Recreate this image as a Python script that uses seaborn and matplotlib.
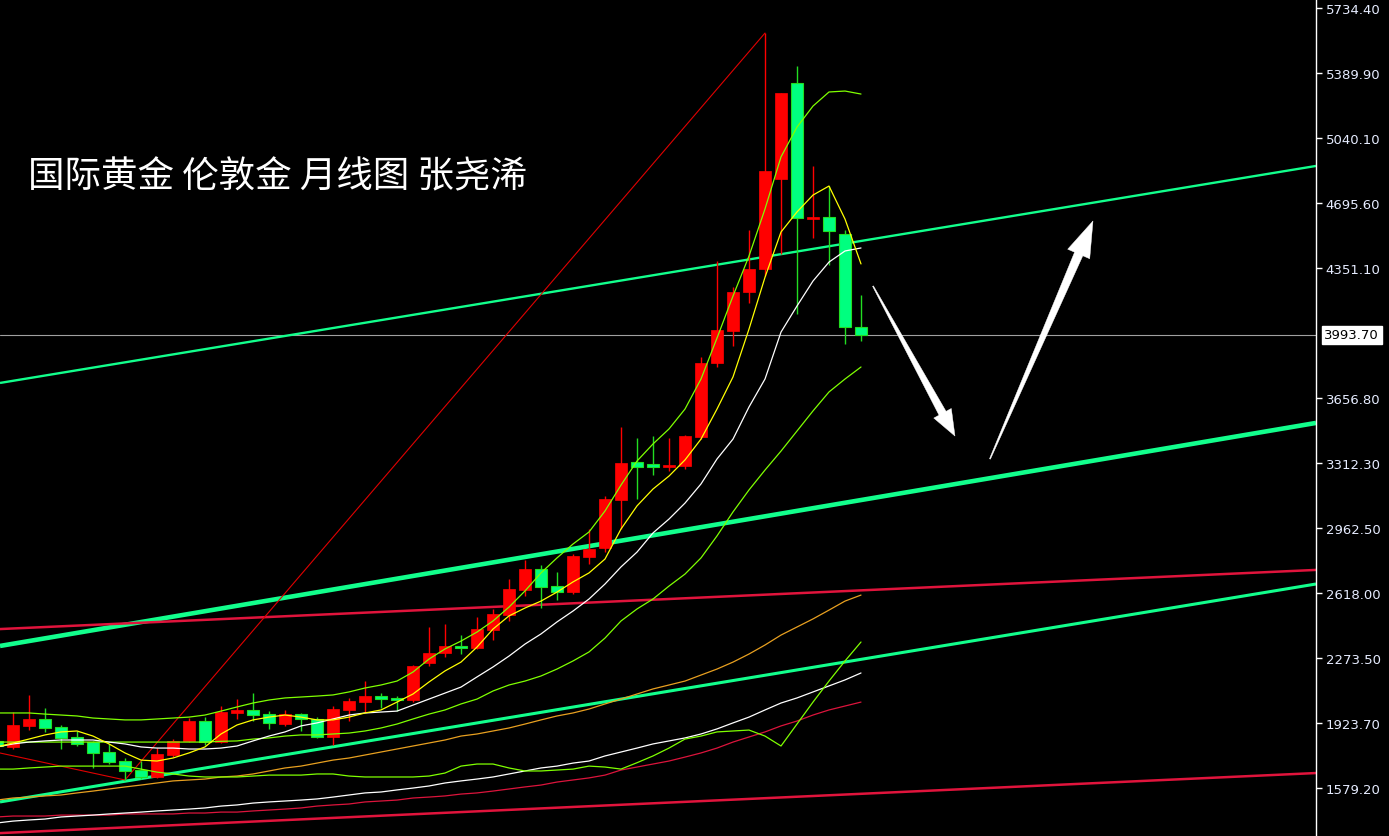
import numpy as np
import pandas as pd
import matplotlib
matplotlib.use("Agg")
import matplotlib.pyplot as plt
import seaborn as sns
from matplotlib.patches import Polygon

# ---------------- data ----------------
idx = list(range(-1, 54))
opens = [1830, 1798, 1910, 1947, 1904, 1851, 1824, 1771, 1723, 1675, 1638, 1755, 1830, 1936, 1824,
         1979, 1995, 1973, 1920, 1973, 1947, 1851, 1995, 2037, 2069, 2059, 2048, 2245, 2298, 2336,
         2325, 2421, 2501, 2634, 2746, 2655, 2623, 2810, 2858, 3113, 3316, 3305, 3289, 3295, 3449,
         3843, 4014, 4222, 4344, 4823, 5335, 4610, 4621, 4530, 4035]
highs = [1840, 1984, 2075, 2005, 1915, 1883, 1830, 1814, 1739, 1723, 1792, 1840, 1952, 1957, 2016,
         2053, 2085, 1989, 1995, 1979, 1957, 2016, 2059, 2149, 2085, 2069, 2232, 2437, 2453, 2394,
         2490, 2533, 2693, 2794, 2767, 2730, 2826, 2959, 3135, 3502, 3444, 3454, 3444, 3460, 3875,
         4387, 4248, 4552, 5601, 5282, 5425, 4893, 4786, 4552, 4206]
lows = [1787, 1787, 1888, 1878, 1787, 1803, 1686, 1707, 1622, 1627, 1633, 1744, 1824, 1808, 1819,
        1947, 1936, 1894, 1910, 1883, 1846, 1808, 1936, 1984, 2005, 1989, 2037, 2229, 2277, 2293,
        2320, 2368, 2469, 2602, 2538, 2581, 2613, 2773, 2836, 2959, 3119, 3247, 3268, 3279, 3438,
        3822, 3934, 4163, 4307, 4424, 4104, 4509, 4365, 3944, 3960]
closes = [1803, 1915, 1947, 1899, 1846, 1814, 1766, 1718, 1670, 1638, 1760, 1830, 1936, 1824, 1984,
          1995, 1968, 1926, 1973, 1947, 1851, 2000, 2043, 2069, 2053, 2048, 2229, 2298, 2336, 2325,
          2426, 2506, 2639, 2746, 2650, 2623, 2815, 2852, 3119, 3311, 3289, 3289, 3300, 3454, 3843,
          4019, 4222, 4344, 4866, 5282, 4616, 4621, 4546, 4035, 3993.7]

ma5 = [1798, 1819, 1840, 1862, 1878, 1883, 1856, 1814, 1766, 1728, 1723, 1739, 1766, 1798, 1867,
       1915, 1942, 1957, 1968, 1957, 1942, 1942, 1957, 1979, 1995, 2037, 2080, 2144, 2203, 2250,
       2330, 2426, 2496, 2538, 2575, 2623, 2677, 2725, 2799, 2959, 3082, 3172, 3241, 3327, 3438,
       3598, 3769, 4024, 4300, 4541, 4648, 4738, 4786, 4610, 4371]
ma10 = [1798, 1814, 1824, 1830, 1835, 1835, 1835, 1824, 1814, 1798, 1792, 1792, 1787, 1787, 1792,
        1803, 1830, 1856, 1878, 1910, 1926, 1947, 1968, 1979, 1984, 1989, 2021, 2053, 2085, 2117,
        2171, 2224, 2282, 2346, 2400, 2464, 2522, 2586, 2666, 2757, 2836, 2938, 3012, 3097, 3199,
        3332, 3438, 3609, 3758, 4008, 4147, 4280, 4381, 4440, 4456]
bb_upper = [1979, 1979, 1979, 1973, 1968, 1963, 1952, 1947, 1942, 1942, 1947, 1952, 1957, 1968, 1989,
            2011, 2032, 2048, 2059, 2064, 2069, 2075, 2091, 2112, 2128, 2149, 2197, 2266, 2320, 2362,
            2410, 2469, 2543, 2629, 2725, 2805, 2879, 2943, 3055, 3193, 3321, 3412, 3492, 3598, 3758,
            3976, 4200, 4413, 4664, 4941, 5100, 5212, 5287, 5292, 5276]
bb_lower = [1824, 1824, 1824, 1824, 1824, 1824, 1824, 1824, 1824, 1824, 1824, 1824, 1824, 1824, 1828,
            1830, 1840, 1846, 1856, 1862, 1862, 1867, 1872, 1883, 1899, 1920, 1947, 1973, 1995, 2027,
            2053, 2096, 2128, 2149, 2176, 2213, 2256, 2304, 2378, 2469, 2533, 2586, 2655, 2719, 2805,
            2922, 3050, 3167, 3273, 3374, 3481, 3588, 3689, 3758, 3822]
band2 = [1680, 1680, 1686, 1691, 1696, 1696, 1696, 1696, 1696, 1680, 1664, 1654, 1643, 1638, 1638,
         1638, 1643, 1648, 1648, 1648, 1654, 1654, 1643, 1638, 1638, 1638, 1638, 1643, 1659, 1696,
         1707, 1707, 1686, 1670, 1670, 1675, 1680, 1696, 1691, 1680, 1714, 1750, 1792, 1840, 1856,
         1878, 1883, 1888, 1856, 1803, 1920, 2037, 2149, 2256, 2357]
ma_orange = [1515, 1526, 1531, 1537, 1542, 1553, 1563, 1574, 1585, 1595, 1606, 1617, 1622, 1627, 1638,
             1643, 1654, 1670, 1686, 1696, 1712, 1728, 1739, 1755, 1771, 1787, 1803, 1819, 1835, 1856,
             1867, 1883, 1899, 1920, 1942, 1963, 1979, 2000, 2027, 2053, 2080, 2107, 2128, 2149, 2181,
             2213, 2250, 2293, 2341, 2394, 2437, 2480, 2527, 2575, 2607]
ma_white_long = [1393, 1403, 1409, 1414, 1425, 1430, 1435, 1441, 1446, 1451, 1457, 1462, 1467, 1473, 1483,
                 1489, 1499, 1505, 1510, 1515, 1521, 1531, 1542, 1553, 1558, 1569, 1579, 1590, 1606, 1617,
                 1627, 1638, 1654, 1670, 1686, 1696, 1712, 1723, 1750, 1771, 1792, 1814, 1830, 1846, 1867,
                 1894, 1926, 1957, 1995, 2032, 2059, 2091, 2123, 2155, 2192]
ma_red_long = [1425, 1430, 1430, 1430, 1435, 1435, 1435, 1435, 1441, 1441, 1441, 1441, 1446, 1446, 1451,
               1451, 1457, 1462, 1467, 1473, 1483, 1489, 1494, 1505, 1510, 1515, 1526, 1531, 1537, 1547,
               1553, 1563, 1574, 1585, 1595, 1611, 1622, 1633, 1648, 1675, 1691, 1707, 1723, 1744, 1766,
               1792, 1824, 1851, 1878, 1910, 1936, 1968, 1995, 2016, 2037]

zigzag_x = [-3, 7, 47]
zigzag_y = [1806, 1622, 5601]

# trend lines: two anchor points (candle index, price)
green_lines = [((-0.8125, 3737), (81.4375, 4893)),
               ((-0.8125, 2336), (81.4375, 3524)),
               ((-0.8125, 1505), (81.4375, 2666))]
red_lines = [((-0.8125, 2426), (81.4375, 2741)),
             ((-0.8125, 1339), (81.4375, 1659))]

last_price = 3993.70
tick_values = [5734.40, 5389.90, 5040.10, 4695.60, 4351.10, 3656.80,
               3312.30, 2962.50, 2618.00, 2273.50, 1923.70, 1579.20]
title_text = "国际黄金 伦敦金 月线图 张尧浠"

arrow_down = ((53.75, 4253), (58.875, 3454))
arrow_up = ((61.06, 3332), (67.5, 4600))

# ---------------- styling ----------------
sns.set_theme(style="dark", rc={"axes.facecolor": "black", "figure.facecolor": "black",
                                "savefig.facecolor": "black", "axes.grid": False})
plt.rcParams["font.family"] = ["DejaVu Sans"]

W, H = 1389, 837
fig = plt.figure(figsize=(W / 100, H / 100), dpi=100)
ax = fig.add_axes([0, 0, 1316 / W, 1])
ax.set_facecolor("black")
ax.set_xlim(-0.8125, 81.4375)
ax.set_ylim(1323.6, 5782.3)

# trend lines
for (p1, p2), lw in zip(green_lines, [1.7, 3.3, 2.2]):
    ax.axline(p1, p2, color="#12FF8C", lw=lw, zorder=2, solid_capstyle="butt")
for (p1, p2) in red_lines:
    ax.axline(p1, p2, color="#E0143C", lw=1.8, zorder=2)

# current price line
ax.axhline(last_price, color="#A0A0A0", lw=0.8, zorder=1)

# zigzag
ax.plot(zigzag_x, zigzag_y, color="#E00000", lw=0.8, zorder=2)

# candles
df = pd.DataFrame({"i": idx, "o": opens, "h": highs, "l": lows, "c": closes})
up = df[df.c >= df.o]
dn = df[df.c < df.o]
bw = 0.69
min_h = 8
ax.vlines(up.i, up.l, up.h, color="#FF0000", lw=1.0, zorder=3)
ax.vlines(dn.i, dn.l, dn.h, color="#22DD22", lw=1.0, zorder=3)
ax.bar(up.i, np.maximum(up.c - up.o, min_h), bottom=up.o, width=bw,
       color="#FF0000", edgecolor="#FF0000", lw=0.5, zorder=4)
ax.bar(dn.i, np.maximum(dn.o - dn.c, min_h), bottom=dn.c, width=bw,
       color="#00FF7F", edgecolor="#22DD22", lw=0.8, zorder=4)

# moving averages / bands
line_specs = [
    (ma_red_long, "#DC143C"),
    (ma_white_long, "#FFFFFF"),
    (ma_orange, "#E8A020"),
    (band2, "#7FFF00"),
    (bb_lower, "#7FFF00"),
    (bb_upper, "#7FFF00"),
    (ma10, "#FFFFFF"),
    (ma5, "#FFFF00"),
]
for vals, col in line_specs:
    sns.lineplot(x=idx, y=vals, color=col, lw=0.9, ax=ax, zorder=5,
                 estimator=None, sort=False)

# arrows (tapered, drawn in pixel space)
def tapered_arrow(ax, tail, tip, shaft_w, head_w, head_len):
    T = ax.transData
    p0 = T.transform(tail)
    p1 = T.transform(tip)
    d = p1 - p0
    L = np.hypot(*d)
    u = d / L
    n = np.array([-u[1], u[0]])
    base = p1 - u * head_len
    pts = np.array([p0 + n * 0.5, base + n * shaft_w / 2, base + n * head_w / 2, p1,
                    base - n * head_w / 2, base - n * shaft_w / 2, p0 - n * 0.5])
    ax.add_patch(Polygon(T.inverted().transform(pts), closed=True, fc="white",
                         ec="white", lw=0.3, zorder=6))

tapered_arrow(ax, arrow_down[0], arrow_down[1], 8, 20, 26)
tapered_arrow(ax, arrow_up[0], arrow_up[1], 9, 24, 36)

# title
ax.text(28 / 1316, 1 - 177 / H, title_text, transform=ax.transAxes, color="white",
        fontsize=26.3, va="center", ha="left", fontweight="medium",
        family=["Noto Sans CJK SC", "DejaVu Sans"], zorder=7)

# axes
for s in ["top", "left", "bottom"]:
    ax.spines[s].set_visible(False)
ax.spines["right"].set_color("white")
ax.spines["right"].set_linewidth(1.0)
ax.set_xticks([])
ax.yaxis.tick_right()
ax.set_yticks(tick_values)
ax.set_yticklabels([f"{v:.2f}" for v in tick_values])
ax.tick_params(axis="y", colors="white", labelcolor="#E6ECFF", length=4, width=1,
               direction="out", labelsize=9.5, pad=3, right=True, left=False)
ax.set_xlabel("")
ax.set_ylabel("")
if ax.get_legend():
    ax.get_legend().remove()

# last price box
ax.annotate(f"{last_price:.2f}", xy=(1.0, last_price), xycoords=("axes fraction", "data"),
            xytext=(6, 0), textcoords="offset points", va="center", ha="left",
            fontsize=9.5, color="black",
            bbox=dict(boxstyle="square,pad=0.2", fc="white", ec="white"),
            annotation_clip=False)

fig.savefig("out.png", dpi=100, facecolor="black")
